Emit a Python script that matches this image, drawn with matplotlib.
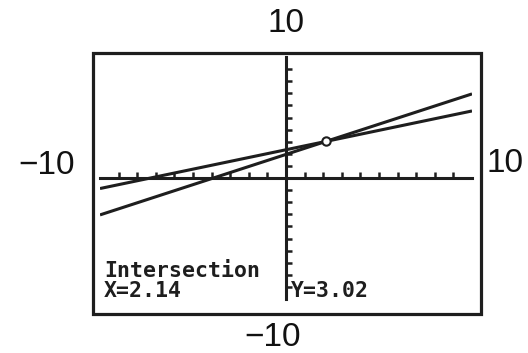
import numpy as np
import matplotlib.pyplot as plt
from matplotlib.patches import Rectangle

# Janela da calculadora
xmin, xmax = -10, 10
ymin, ymax = -10, 10

# Extremos das duas retas (x = -10 e x = 10)
x_ext = [-10, 10]
reta1 = [-3.05, 6.95]
reta2 = [-0.87, 5.54]

# Ponto de intersecção mostrado na tela
xi, yi = 2.14, 3.02

W, H = 528, 353
fig = plt.figure(figsize=(W / 100, H / 100), dpi=100)

# área de desenho (pixels da tela)
ax = fig.add_axes([100 / W, 1 - 299 / H, (472 - 100) / W, (299 - 57) / H])
ax.set_xlim(xmin, xmax)
ax.set_ylim(ymin, ymax)

cor = '#1e1e1e'
ax.plot(x_ext, reta1, color=cor, lw=2.2, solid_capstyle='butt')
ax.plot(x_ext, reta2, color=cor, lw=2.2, solid_capstyle='butt')
ax.plot([xi], [yi], marker='o', ms=6, mfc='white', mec=cor, mew=1.5)

# eixos passando pela origem
for s in ['top', 'right']:
    ax.spines[s].set_visible(False)
ax.spines['left'].set_position('zero')
ax.spines['bottom'].set_position('zero')
ax.spines['left'].set_linewidth(2.2)
ax.spines['bottom'].set_linewidth(2.2)
ax.spines['left'].set_color(cor)
ax.spines['bottom'].set_color(cor)
ax.set_xticks(np.arange(-9, 10, 1))
ax.set_yticks(np.arange(-9, 10, 1))
ax.tick_params(direction='in', length=4.5, width=1.8, color=cor,
               labelbottom=False, labelleft=False)
ax.patch.set_alpha(0)

# moldura da tela
fig.patches.append(Rectangle((93 / W, 1 - 314 / H), (481 - 93) / W, (314 - 53) / H,
                             transform=fig.transFigure, fill=False,
                             lw=2.3, ec=cor))

# textos da tela
mono = dict(family='DejaVu Sans Mono', weight='bold', size=15.5, color=cor)
fig.text(104 / W, 1 - 271 / H, 'Intersection', va='center', ha='left', **mono)
fig.text(104 / W, 1 - 291 / H, 'X=2.14', va='center', ha='left', **mono)
fig.text(291 / W, 1 - 291 / H, 'Y=3.02', va='center', ha='left', **mono)

# valores da janela
lab = dict(family='Liberation Sans', size=24, color='#111111')
fig.text(286 / W, 1 - 23 / H, '10', ha='center', va='center', **lab)
fig.text(273 / W, 1 - 337 / H, '\u221210', ha='center', va='center', **lab)
fig.text(47 / W, 1 - 166 / H, '\u221210', ha='center', va='center', **lab)
fig.text(505 / W, 1 - 164 / H, '10', ha='center', va='center', **lab)

fig.savefig('out.png', dpi=100)
